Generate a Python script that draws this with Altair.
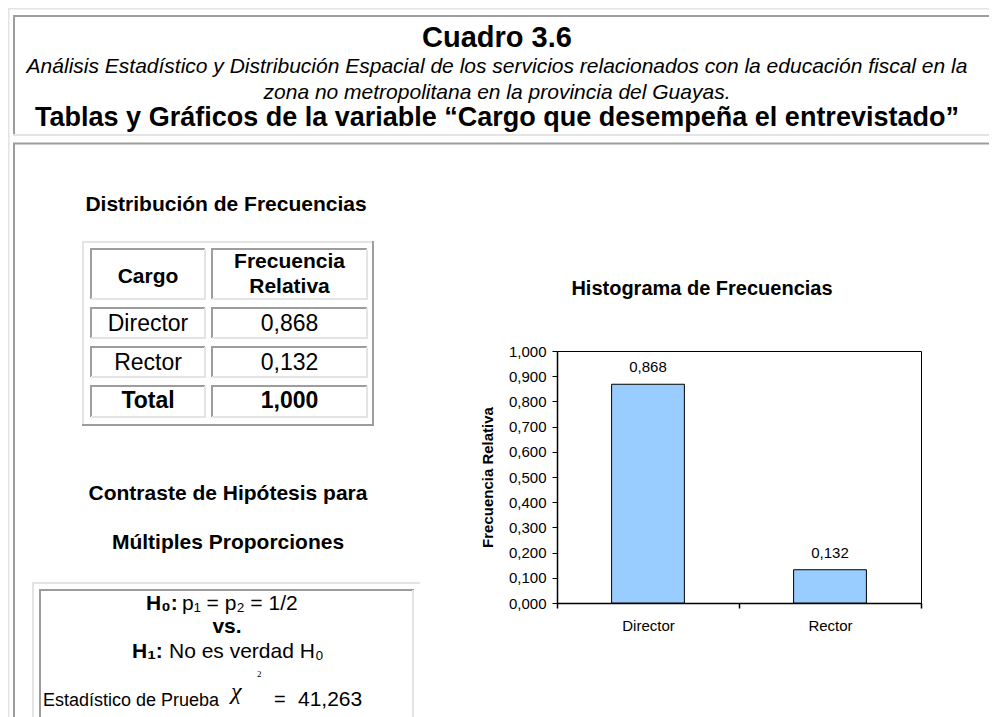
import altair as alt
import pandas as pd

# ---------------- data ----------------
categories = ["Director", "Rector"]
rel_freq = [0.868, 0.132]
total_freq = [1.000]
y_ticks = [0.0, 0.1, 0.2, 0.3, 0.4, 0.5, 0.6, 0.7, 0.8, 0.9, 1.0]
chi2_stat = [41.263]

title_main = "Cuadro 3.6"
subtitle_lines = [
    "Análisis Estadístico y Distribución Espacial de los servicios relacionados con la educación fiscal en la",
    "zona no metropolitana en la provincia del Guayas.",
]
header_line = "Tablas y Gráficos de la variable “Cargo que desempeña el entrevistado”"
table_title = "Distribución de Frecuencias"
table_head = ["Cargo", "Frecuencia", "Relativa"]
total_label = "Total"
chart_title = "Histograma de Frecuencias"
y_title = "Frecuencia Relativa"
test_title = ["Contraste de Hipótesis para", "Múltiples Proporciones"]

# ---------------- layout ----------------
FONT = "Liberation Sans"
SERIF = "Liberation Serif"
X0, Y0 = 557, 351          # page position of plot origin
PW, PH = 364, 252          # plot area
TOTAL_H = 709
DARK = "#9d9d9d"
LIGHT = "#e4e4e4"
NUMFMT = "replace(format(datum.v, '.3f'), '.', ',')"

one = pd.DataFrame({"k": [0]})


def hline(x1, x2, y, color, w=2):
    return alt.Chart(one).mark_rule(color=color, strokeWidth=w).encode(
        x=alt.value(x1 - X0), x2=alt.value(x2 - X0), y=alt.value(y - Y0))


def vline(x, y1, y2, color, w=2):
    return alt.Chart(one).mark_rule(color=color, strokeWidth=w).encode(
        x=alt.value(x - X0), y=alt.value(y1 - Y0), y2=alt.value(y2 - Y0))


def txt(s, px, py, size, bold=False, italic=False, align="center", font=FONT):
    return alt.Chart(pd.DataFrame({"t": [s]})).mark_text(
        align=align, baseline="alphabetic", font=font, fontSize=size,
        fontWeight="bold" if bold else "normal",
        fontStyle="italic" if italic else "normal", color="black",
    ).encode(x=alt.value(px - X0), y=alt.value(py - Y0), text="t:N")


def num(v, px, py, size, bold=False, align="center", prefix=""):
    return alt.Chart(pd.DataFrame({"v": [v]})).transform_calculate(
        t="'" + prefix + "' + " + NUMFMT).mark_text(
        align=align, baseline="alphabetic", font=FONT, fontSize=size,
        fontWeight="bold" if bold else "normal", color="black",
    ).encode(x=alt.value(px - X0), y=alt.value(py - Y0), text="t:N")


layers = []

# page frames
layers += [
    hline(8, 997, 8.5, LIGHT), vline(8.5, 8, 717, LIGHT),
    hline(13, 997, 16, DARK), vline(14, 15, 135, DARK), hline(13, 997, 135, LIGHT),
    hline(13, 997, 143.5, DARK), vline(14, 143, 717, DARK),
]

# frequency table frames
layers += [hline(82, 374, 242, LIGHT), vline(83, 241, 426, LIGHT),
           vline(373, 241, 426, DARK), hline(82, 374, 425, DARK)]
cols = [(91, 205), (212, 367)]
rows = [(249, 299), (308, 338), (347, 377), (386, 417)]
for (cx1, cx2) in cols:
    for (ry1, ry2) in rows:
        layers += [hline(cx1 - 1, cx2, ry1, DARK), vline(cx1, ry1, ry2, DARK),
                   hline(cx1, cx2 + 1, ry2, LIGHT), vline(cx2, ry1, ry2 + 1, LIGHT)]

# hypothesis box frames
layers += [hline(32, 420, 583, LIGHT), vline(33, 582, 717, LIGHT),
           hline(39, 414, 590, DARK), vline(40, 589, 717, DARK),
           vline(413, 590, 717, LIGHT)]

# header texts
layers += [
    txt(title_main, 497, 47, 29, bold=True),
    txt(subtitle_lines[0], 497, 73, 21, italic=True),
    txt(subtitle_lines[1], 497, 99, 21, italic=True),
    txt(header_line, 497, 126, 27, bold=True),
]

# frequency table texts
ccx = [(a + b) / 2 for a, b in cols]
layers += [
    txt(table_title, 226, 211, 21, bold=True),
    txt(table_head[0], ccx[0], 283, 21, bold=True),
    txt(table_head[1], ccx[1], 268, 21, bold=True),
    txt(table_head[2], ccx[1], 293, 21, bold=True),
]
row_base = [331, 370]
for cat, v, yb in zip(categories, rel_freq, row_base):
    layers += [txt(cat, ccx[0], yb, 23), num(v, ccx[1], yb, 23)]
layers += [txt(total_label, ccx[0], 408, 23, bold=True),
           num(total_freq[0], ccx[1], 408, 23, bold=True)]

# hypothesis test texts
layers += [
    txt(test_title[0], 228, 500, 21, bold=True),
    txt(test_title[1], 228, 549, 21, bold=True),
    txt("H₀:", 146, 610, 21, bold=True, align="left"),
    txt("p₁ = p₂ = 1/2", 182, 610, 21, align="left"),
    txt("vs.", 227, 633, 21, bold=True),
    txt("H₁:", 132, 658, 21, bold=True, align="left"),
    txt("No es verdad H₀", 169, 658, 21, align="left"),
    txt("Estadístico de Prueba", 43, 706, 18, align="left"),
    txt("χ", 231, 699, 24, italic=True, align="left", font=SERIF),
    txt("2", 257, 677, 9, align="left", font=SERIF),
    txt("=", 274, 706, 20, align="left"),
    num(chi2_stat[0], 298, 706, 21, align="left"),
]

# chart title
layers += [txt(chart_title, 702, 295, 20, bold=True)]

# ---------------- bar chart ----------------
df = pd.DataFrame({"Cargo": categories, "v": rel_freq})
base = alt.Chart(df).encode(
    x=alt.X("Cargo:N", sort=categories,
            scale=alt.Scale(paddingInner=0, paddingOuter=0),
            axis=alt.Axis(title=None, labelAngle=0, tickBand="extent",
                          tickSize=5, tickColor="black", domainColor="black",
                          domainWidth=1.5, tickWidth=1.5,
                          labelFont=FONT, labelFontSize=15, labelColor="black",
                          labelBaseline="alphabetic", labelPadding=22)),
    y=alt.Y("v:Q", scale=alt.Scale(domain=[0, 1], nice=False, zero=True),
            axis=alt.Axis(title=y_title, values=y_ticks, grid=False,
                          labelExpr="replace(format(datum.value, '.3f'), '.', ',')",
                          tickSize=5, tickColor="black", domainColor="black",
                          domainWidth=1.5, tickWidth=1,
                          labelFont=FONT, labelFontSize=15, labelColor="black",
                          labelPadding=6,
                          titleFont=FONT, titleFontSize=15, titleFontWeight="bold",
                          titleColor="black", titlePadding=13)),
)
bars = base.mark_bar(width=alt.RelativeBandSize(0.4), color="#99CCFF",
                     stroke="black", strokeWidth=1)
bar_labels = base.transform_calculate(t=NUMFMT).mark_text(
    baseline="alphabetic", dy=-12, font=FONT, fontSize=15, color="black"
).encode(text="t:N")

chart = alt.layer(*layers, bars, bar_labels).properties(
    width=PW, height=PH,
    autosize=alt.AutoSizeParams(type="none"),
    padding={"left": X0 - 8, "top": Y0 - 8, "right": 997 - 16 - (X0 - 8) - PW,
             "bottom": TOTAL_H - (Y0 - 8) - PH},
    background="white",
).configure_view(stroke="black", strokeWidth=1)

chart.save("out.html", embed_options={"renderer": "svg", "actions": False})
